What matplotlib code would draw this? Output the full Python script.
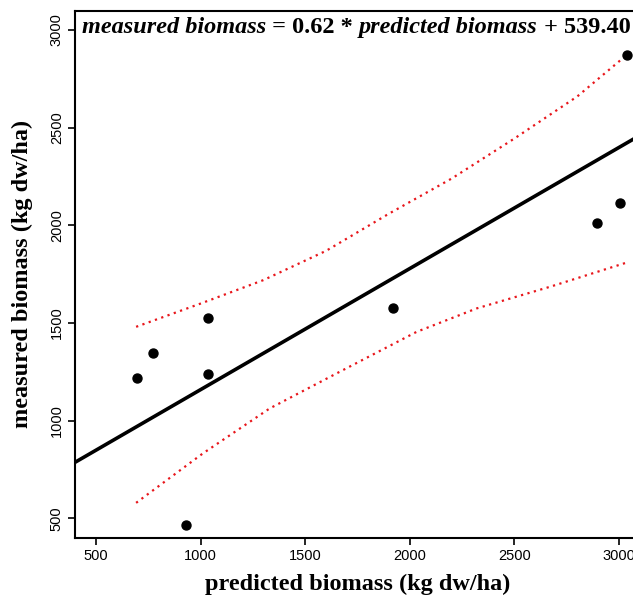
import numpy as np
import matplotlib
matplotlib.use("Agg")
import matplotlib.pyplot as plt

# data
predicted = [694, 775, 1035, 1035, 932, 1920, 2895, 3005, 3037]
measured = [1217, 1345, 1524, 1237, 469, 1578, 2013, 2115, 2873]

slope = 0.62
intercept = 539.40

# prediction band (red dotted)
upper_x = [692, 1000, 1300, 1600, 1900, 2200, 2500, 2800, 3037]
upper_y = [1481, 1600, 1720, 1870, 2060, 2240, 2445, 2660, 2873]
lower_x = [692, 1011, 1330, 1649, 2032, 2319, 2670, 3013, 3037]
lower_y = [580, 833, 1063, 1242, 1455, 1575, 1686, 1802, 1810]

xticks = [500, 1000, 1500, 2000, 2500, 3000]
yticks = [500, 1000, 1500, 2000, 2500, 3000]

serif = ["Liberation Serif", "DejaVu Serif"]
sans = ["Liberation Sans", "DejaVu Sans"]

fig = plt.figure(figsize=(6.33, 5.97), dpi=100)
ax = fig.add_axes([0.1185, 0.0988, 0.8926, 0.8836])

ax.set_xlim(400, 3100)
ax.set_ylim(400, 3100)

xs = np.array([400, 3100])
ax.plot(xs, slope * xs + intercept, color="black", lw=2.6, solid_capstyle="butt")
ax.plot(upper_x, upper_y, color="#e8161b", lw=1.6, linestyle=(0, (1, 2)))
ax.plot(lower_x, lower_y, color="#e8161b", lw=1.6, linestyle=(0, (1, 2)))
ax.scatter(predicted, measured, s=42, color="black", zorder=5, clip_on=False)

ax.set_xticks(xticks)
ax.set_yticks(yticks)
ax.set_xticklabels([str(t) for t in xticks], family=sans, fontsize=10.5)
ax.set_yticklabels([str(t) for t in yticks], family=sans, fontsize=10.5,
                   rotation=90, va="center")
ax.tick_params(direction="out", length=5, width=1.2, pad=3, color="black")

for side in ["left", "bottom", "top"]:
    ax.spines[side].set_linewidth(1.5)
ax.spines["right"].set_visible(False)

ax.set_xlabel("predicted biomass (kg dw/ha)", family=serif, fontsize=17.5,
              fontweight="bold", labelpad=8)
ax.set_ylabel("measured biomass (kg dw/ha)", family=serif, fontsize=17.5,
              fontweight="bold", labelpad=12)

# equation, built piece by piece (italic / upright)
pieces = [("measured biomass", "italic"), (" = 0.62 * ", "normal"),
          ("predicted biomass", "italic"), (" + 539.40", "normal")]
t = ax.text(0.012, 0.988, pieces[0][0], transform=ax.transAxes, family=serif,
            fontsize=17.5, fontweight="bold", style=pieces[0][1],
            ha="left", va="top")
for txt, st in pieces[1:]:
    t = ax.annotate(txt, xy=(1, 0), xycoords=t, ha="left", va="bottom",
                    family=serif, fontsize=17.5, fontweight="bold", style=st)

fig.savefig("out.png", dpi=100)
